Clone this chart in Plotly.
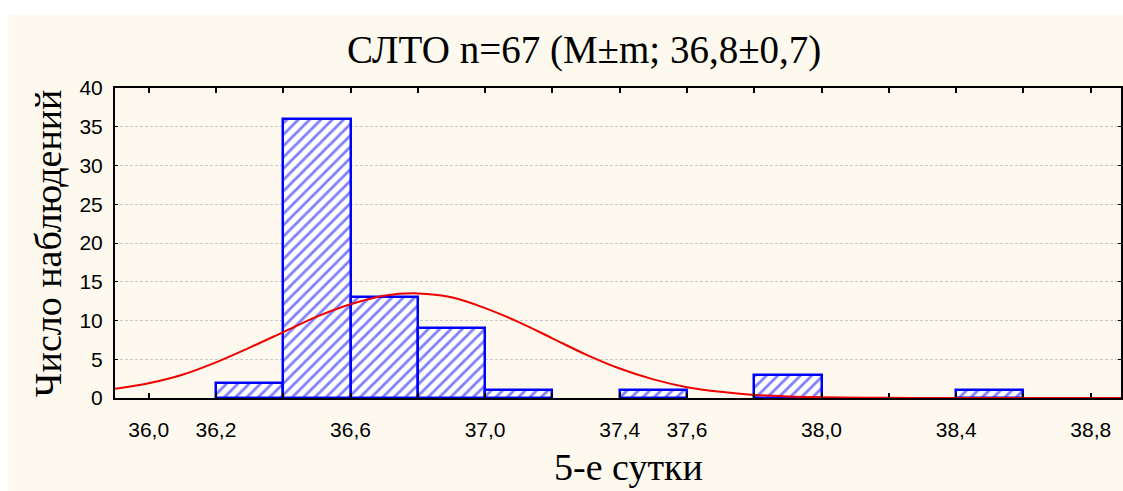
import plotly.graph_objects as go

# Histogram bins (left edge, right edge) and counts
bin_left = [36.2, 36.4, 36.6, 36.8, 37.0, 37.4, 37.8, 38.4]
bin_right = [36.4, 36.6, 36.8, 37.0, 37.2, 37.6, 38.0, 38.6]
counts = [2, 36, 13, 9, 1, 1, 3, 1]

# Fitted normal curve
curve_x = [35.9, 36.0, 36.1, 36.2, 36.3, 36.4, 36.5, 36.6, 36.7, 36.8, 36.9, 37.0,
           37.1, 37.2, 37.3, 37.4, 37.5, 37.6, 37.7, 37.8, 37.9, 38.0, 38.2, 38.4, 38.9]
curve_y = [1.2, 1.9, 3.0, 4.6, 6.5, 8.5, 10.5, 12.1, 13.2, 13.5, 13.0, 11.6,
           9.8, 7.7, 5.6, 3.8, 2.4, 1.4, 0.8, 0.4, 0.2, 0.1, 0.02, 0.0, 0.0]

x_tickvals = [36.0, 36.2, 36.4, 36.6, 36.8, 37.0, 37.2, 37.4, 37.6, 37.8, 38.0,
              38.2, 38.4, 38.6, 38.8]
x_ticktext = ["36,0", "36,2", "", "36,6", "", "37,0", "", "37,4", "37,6", "",
              "38,0", "", "38,4", "", "38,8"]
y_tickvals = [0, 5, 10, 15, 20, 25, 30, 35, 40]

title_text = "СЛТО n=67 (M±m; 36,8±0,7)"
x_title = "5-е сутки"
y_title = "Число наблюдений"

centers = [(a + b) / 2 for a, b in zip(bin_left, bin_right)]
widths = [b - a for a, b in zip(bin_left, bin_right)]

fig = go.Figure()
fig.add_trace(go.Bar(
    x=centers, y=counts, width=widths,
    marker=dict(color="white",
                line=dict(color="#0000ff", width=2.5),
                pattern=dict(shape="/", fgcolor="#0000ff", bgcolor="white",
                             size=8, solidity=0.35)),
    showlegend=False,
))
fig.add_trace(go.Scatter(
    x=curve_x, y=curve_y, mode="lines",
    line=dict(color="#ee0000", width=2, shape="spline"),
    showlegend=False,
))

L, T, B = 115, 88, 93
W, H = 1123, 491
pw = W - L
ph = H - T - B

def px(xp):
    return (xp - L) / pw

def py(yp):
    return (H - B - yp) / ph

cream = "#fdf9ee"
fig.add_shape(type="rect", xref="paper", yref="paper", layer="below",
              x0=px(8), x1=px(1130), y0=py(500), y1=py(15),
              fillcolor=cream, line=dict(width=0))

fig.add_annotation(text=title_text, xref="paper", yref="paper",
                   x=px(585), y=py(50), showarrow=False,
                   xanchor="center", yanchor="middle",
                   font=dict(family="Liberation Serif", size=39, color="black"))
fig.add_annotation(text=x_title, xref="paper", yref="paper",
                   x=px(630), y=py(467), showarrow=False,
                   xanchor="center", yanchor="middle",
                   font=dict(family="Liberation Serif", size=38, color="black"))
fig.add_annotation(text=y_title, xref="paper", yref="paper",
                   x=px(48), y=py(243), showarrow=False, textangle=-90,
                   xanchor="center", yanchor="middle",
                   font=dict(family="Liberation Serif", size=38, color="black"))

fig.update_layout(
    width=W, height=H,
    margin=dict(l=L, r=0, t=T, b=B),
    paper_bgcolor="white", plot_bgcolor="white",
    bargap=0,
)
fig.update_xaxes(
    range=[35.9, 38.89], tickvals=x_tickvals, ticktext=x_ticktext,
    showgrid=False, zeroline=False,
    showline=True, linecolor="black", linewidth=2, mirror="ticks",
    ticks="inside", ticklen=5, tickwidth=2, tickcolor="black",
    ticklabelstandoff=12,
    tickfont=dict(family="Liberation Sans", size=21, color="black"),
)
fig.update_yaxes(
    range=[0, 40], tickvals=y_tickvals,
    showgrid=True, gridcolor="#c8c8c8", griddash="3px,2px", gridwidth=1,
    zeroline=False,
    showline=True, linecolor="black", linewidth=2, mirror="ticks",
    ticks="inside", ticklen=3, tickwidth=1, tickcolor="black",
    ticklabelstandoff=6,
    tickfont=dict(family="Liberation Sans", size=21, color="black"),
)

fig.write_html("out.html")
